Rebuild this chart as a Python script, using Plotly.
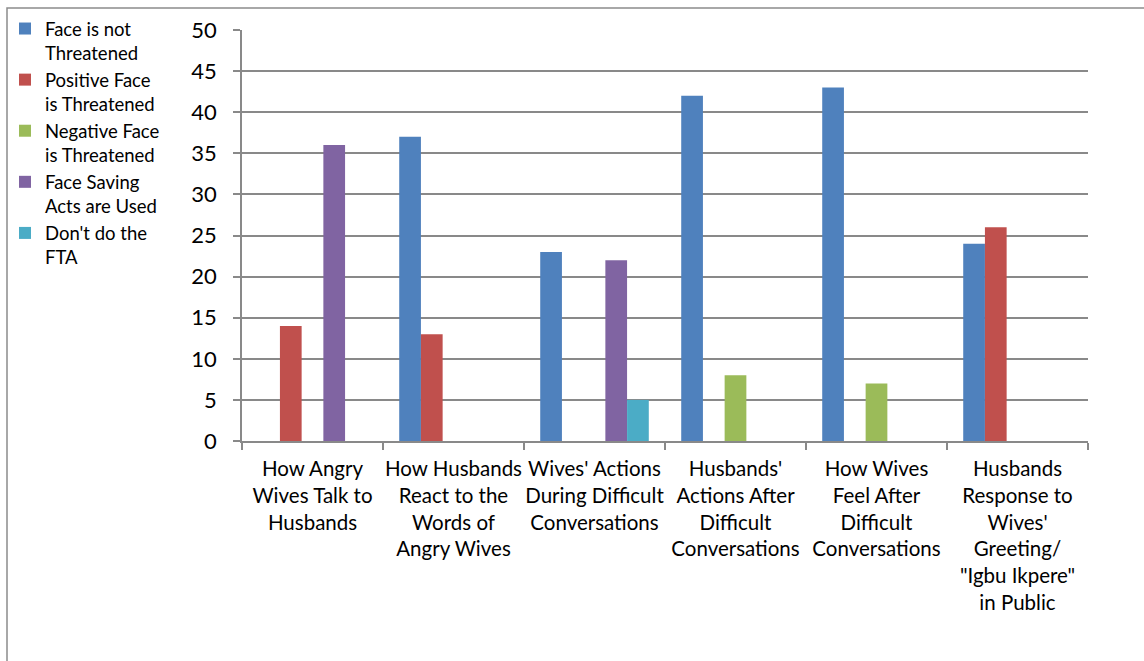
import plotly.graph_objects as go

categories = [
    "How Angry<br>Wives Talk to<br>Husbands",
    "How Husbands<br>React to the<br>Words of<br>Angry Wives",
    "Wives' Actions<br>During Difficult<br>Conversations",
    "Husbands'<br>Actions After<br>Difficult<br>Conversations",
    "How Wives<br>Feel After<br>Difficult<br>Conversations",
    "Husbands<br>Response to<br>Wives'<br>Greeting/<br>\"Igbu Ikpere\"<br>in Public",
]

face_not_threatened = [0, 37, 23, 42, 43, 24]
positive_face_threatened = [14, 13, 0, 0, 0, 26]
negative_face_threatened = [0, 0, 0, 8, 7, 0]
face_saving_acts = [36, 0, 22, 0, 0, 0]
dont_do_fta = [0, 0, 5, 0, 0, 0]

series = [
    ("Face is not<br>Threatened", face_not_threatened, "#4F81BD"),
    ("Positive Face<br>is Threatened", positive_face_threatened, "#C0504D"),
    ("Negative Face<br>is Threatened", negative_face_threatened, "#9BBB59"),
    ("Face Saving<br>Acts are Used", face_saving_acts, "#8064A2"),
    ("Don't do the<br>FTA", dont_do_fta, "#4BACC6"),
]

FONT = "Lato, Carlito, Calibri, sans-serif"
GRID = "#898989"

fig = go.Figure()
for name, vals, color in series:
    fig.add_trace(go.Bar(
        x=categories, y=vals, name=name,
        marker=dict(color=color, line=dict(width=0)),
        legendgroup=name,
    ))

# plot area geometry in pixels
W, H = 1144, 661
L, R, T, B = 242, 56, 30, 220
pw, ph = W - L - R, H - T - B

def px_x(x):
    return (x - L) / pw

def px_y(y):
    return (H - B - y) / ph

fig.update_layout(
    width=W, height=H,
    margin=dict(l=L, r=R, t=T, b=B, autoexpand=False),
    paper_bgcolor="white", plot_bgcolor="white",
    barmode="group", bargap=0.23, bargroupgap=0,
    font=dict(family=FONT, color="#000000"),
    legend=dict(
        x=px_x(5), y=px_y(10), xanchor="left", yanchor="top",
        font=dict(size=18.5, family=FONT),
        valign="top", tracegroupgap=0,
        bgcolor="rgba(0,0,0,0)",
    ),
    xaxis=dict(
        showgrid=False, showline=True, linecolor=GRID, linewidth=1.5,
        ticks="outside", tickson="boundaries", ticklen=7, tickcolor=GRID, tickwidth=1.5,
        tickfont=dict(size=20.5, family=FONT),
        tickangle=0, automargin=False,
        ticklabelstandoff=9,
    ),
    yaxis=dict(
        range=[0, 50], dtick=5, tick0=0,
        showgrid=True, gridcolor=GRID, gridwidth=1.5,
        showline=True, linecolor=GRID, linewidth=1.5,
        ticks="outside", ticklen=7, tickcolor=GRID, tickwidth=1.5,
        tickfont=dict(size=22, family=FONT),
        ticklabelstandoff=12, automargin=False,
        zeroline=False,
    ),
    shapes=[dict(
        type="rect", xref="paper", yref="paper",
        x0=px_x(7), x1=px_x(1150), y0=px_y(670), y1=px_y(8),
        line=dict(color="#8c8c8c", width=1.5), fillcolor="rgba(0,0,0,0)",
        layer="below",
    )],
)

fig.write_html("out.html")
